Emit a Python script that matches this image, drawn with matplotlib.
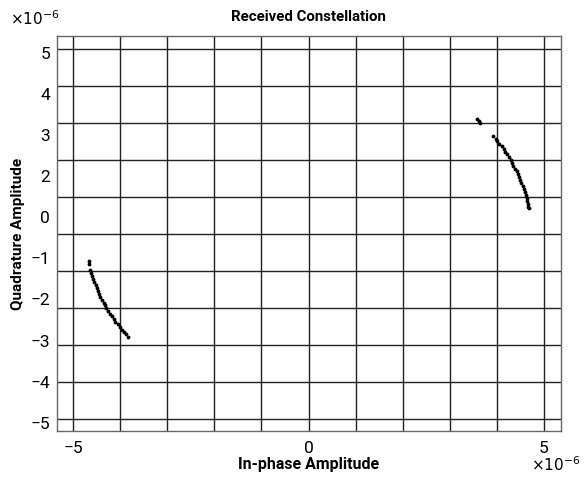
import numpy as np
import matplotlib
matplotlib.use('Agg')
import matplotlib.pyplot as plt

# received symbols (units of 1e-6)
i_right = [3.57, 3.61, 3.65, 3.92, 3.97, 4.01, 4.05, 4.10, 4.14, 4.18, 4.21,
           4.25, 4.29, 4.32, 4.35, 4.39, 4.42, 4.44, 4.47, 4.50, 4.52, 4.55,
           4.57, 4.59, 4.61, 4.63, 4.64, 4.66, 4.67, 4.68]
q_right = [3.10, 3.05, 3.01, 2.65, 2.58, 2.51, 2.44, 2.37, 2.29, 2.22, 2.15,
           2.07, 2.00, 1.92, 1.85, 1.77, 1.70, 1.62, 1.54, 1.46, 1.38, 1.30,
           1.22, 1.14, 1.06, 0.98, 0.90, 0.82, 0.74, 0.70]
i_left = [-4.67, -4.66, -4.63, -4.61, -4.59, -4.57, -4.55, -4.52, -4.50,
          -4.47, -4.44, -4.42, -4.39, -4.35, -4.32, -4.29, -4.25, -4.21,
          -4.18, -4.14, -4.10, -4.05, -4.01, -3.97, -3.92, -3.87, -3.83]
q_left = [-0.74, -0.82, -0.98, -1.06, -1.14, -1.22, -1.30, -1.38, -1.46,
          -1.54, -1.62, -1.70, -1.77, -1.85, -1.92, -2.00, -2.07, -2.15,
          -2.22, -2.29, -2.37, -2.44, -2.51, -2.58, -2.65, -2.71, -2.78]

x_ticks = [-5, 0, 5]
y_tick_labels = ['5', '4', '3', '2', '0', '\u22121', '\u22122', '\u22123',
                 '\u22124', '\u22125']
grid_vals = list(range(-5, 6))

plt.rcParams['font.family'] = ['Roboto', 'DejaVu Sans']


def main():
    fig = plt.figure(figsize=(5.87, 4.79), dpi=100)
    ax = fig.add_axes([0.0971, 0.1002, 0.8586, 0.8246])

    # grid at every integer, labels placed separately
    for g in grid_vals:
        ax.axvline(g, color='#222222', linewidth=1.0, zorder=1)
        ax.axhline(g, color='#222222', linewidth=1.0, zorder=1)

    ax.plot(i_right, q_right, '.', color='black', markersize=3.5, zorder=3)
    ax.plot(i_left, q_left, '.', color='black', markersize=3.5, zorder=3)

    ax.set_xlim(-5.34, 5.36)
    ax.set_ylim(-5.32, 5.35)
    ax.tick_params(which='both', length=0)

    ax.set_xticks(x_ticks)
    ax.set_xticklabels(['\u22125', '0', '5'])
    ax.set_yticks(np.linspace(4.9, -5.1, 10))
    ax.set_yticklabels(y_tick_labels)
    ax.tick_params(axis='x', pad=7, labelsize=12.5)
    ax.tick_params(axis='y', pad=5, labelsize=12.5)

    for s in ax.spines.values():
        s.set_color('#666666')
        s.set_linewidth(1.0)

    ax.set_xlabel('In-phase Amplitude', fontsize=11.5, fontweight='bold',
                  labelpad=1)
    ax.set_ylabel('Quadrature Amplitude', fontsize=11, fontweight='bold',
                  labelpad=4)
    fig.text(308 / 587, 1 - 17 / 479, 'Received Constellation',
             fontsize=10.8, fontweight='bold', ha='center', va='center')

    fig.text(10 / 587, 1 - 19 / 479, r'$\times10^{-6}$', fontsize=11,
             ha='left', va='center', math_fontfamily='dejavusans')
    fig.text(531 / 587, 1 - 465 / 479, r'$\times10^{-6}$', fontsize=11,
             ha='left', va='center', math_fontfamily='dejavusans')

    fig.savefig('out.png', dpi=100)


if __name__ == '__main__':
    main()
